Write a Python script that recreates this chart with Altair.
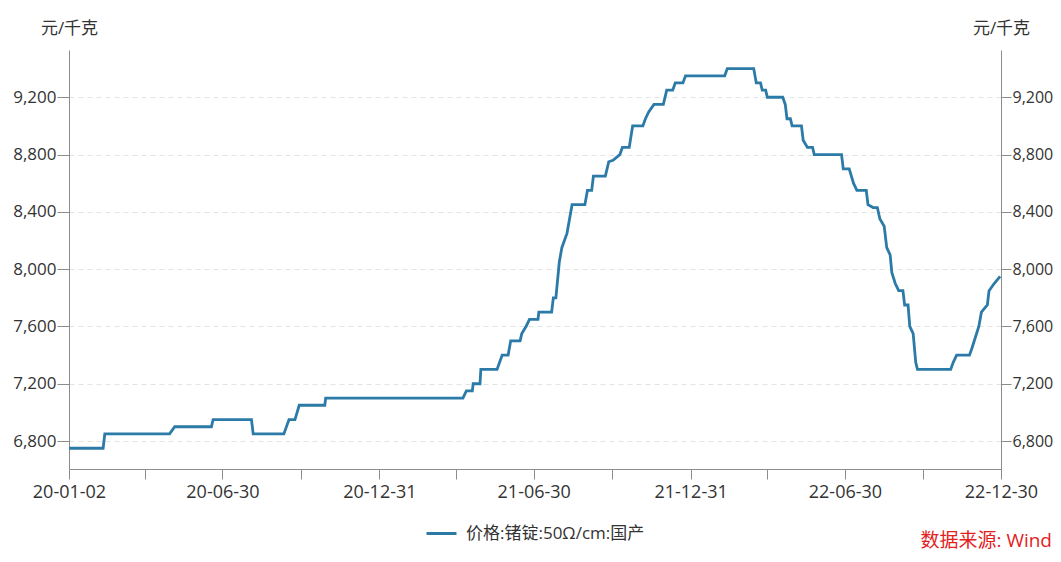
import altair as alt
import pandas as pd

# ---- data (day offsets from 2020-01-02, price in 元/千克) ----
day_offsets = [0, 40, 42, 118, 124, 167, 169, 214, 216, 252, 258, 265, 270, 300, 301,
               462, 466, 473, 474, 482, 483, 502, 508, 515, 518, 529, 531, 536, 540, 550,
               551, 566, 568, 571, 575, 578, 581, 584, 590, 605, 608, 613, 615, 629, 633,
               638, 646, 649, 657, 661, 673, 676, 680, 686, 697, 701, 708, 711, 720, 723,
               769, 772, 803, 806, 811, 813, 817, 819, 837, 840, 842, 846, 848, 859, 861,
               866, 872, 874, 906, 908, 915, 920, 924, 935, 937, 943, 948, 951, 956, 959,
               963, 965, 969, 973, 978, 980, 984, 986, 990, 993, 995, 1034, 1037, 1041, 1056,
               1059, 1067, 1070, 1077, 1079, 1085, 1092]
prices = [6750, 6750, 6850, 6850, 6900, 6900, 6950, 6950, 6850, 6850, 6950, 6950, 7050, 7050, 7100,
          7100, 7150, 7150, 7200, 7200, 7300, 7300, 7400, 7400, 7500, 7500, 7550, 7600, 7650, 7650,
          7700, 7700, 7800, 7800, 8050, 8150, 8200, 8250, 8450, 8450, 8550, 8550, 8650, 8650, 8750,
          8760, 8800, 8850, 8850, 9000, 9000, 9050, 9100, 9150, 9150, 9250, 9250, 9300, 9300, 9350,
          9350, 9400, 9400, 9300, 9300, 9250, 9250, 9200, 9200, 9150, 9050, 9050, 9000, 9000, 8900,
          8850, 8850, 8800, 8800, 8700, 8700, 8600, 8550, 8550, 8450, 8430, 8430, 8350, 8300, 8150,
          8100, 7975, 7900, 7850, 7850, 7750, 7750, 7600, 7550, 7350, 7300, 7300, 7350, 7400, 7400,
          7450, 7600, 7700, 7750, 7850, 7900, 7950]

series_name = "价格:锗锭:50Ω/cm:国产"
unit_title = "元/千克"
source_text = "数据来源: Wind"

tick_dates = ["2020-01-02", "2020-03-31", "2020-06-30", "2020-09-30", "2020-12-31",
              "2021-03-31", "2021-06-30", "2021-09-30", "2021-12-31", "2022-03-31",
              "2022-06-30", "2022-09-30", "2022-12-30"]
label_dates = ["2020-01-02", "2020-06-30", "2020-12-31", "2021-06-30",
               "2021-12-31", "2022-06-30", "2022-12-30"]
y_ticks = [6800, 7200, 7600, 8000, 8400, 8800, 9200]

start = pd.Timestamp("2020-01-02")
dates = start + pd.to_timedelta(day_offsets, unit="D")
df = pd.DataFrame({"date": dates, "price": prices, "series": series_name})


def dt(s):
    t = pd.Timestamp(s)
    return alt.DateTime(year=t.year, month=t.month, date=t.day)


FONT = "Open Sans, Noto Sans CJK SC"
LINE_COLOR = "#2b7aa8"
AXIS_COLOR = "#8c8c8c"
TEXT_COLOR = "#333333"

label_list = ",".join("'%s'" % d for d in label_dates)
label_expr = ("indexof([%s], timeFormat(datum.value, '%%Y-%%m-%%d')) >= 0 ? "
              "timeFormat(datum.value, '%%y-%%m-%%d') : ''") % label_list

x_scale = alt.Scale(domain=[dt("2020-01-02"), dt("2022-12-30")])
y_scale = alt.Scale(domain=[6605, 9530], nice=False, zero=False)

x_axis = alt.Axis(values=[dt(d) for d in tick_dates], labelExpr=label_expr, title=None,
                  labelOverlap=False, labelFlush=False, labelAlign="center",
                  grid=False, domainColor=AXIS_COLOR, tickColor=AXIS_COLOR, tickSize=10,
                  labelPadding=4, labelFontSize=18, labelColor=TEXT_COLOR, labelFont=FONT)

common_y = dict(values=y_ticks, format=",.0f", title=unit_title, titleAngle=0,
                titleAlign="center", titleBaseline="middle", titleX=0, titleY=-22,
                titleFontSize=17, titleFontWeight="normal", titleColor=TEXT_COLOR,
                titleFont=FONT, domainColor=AXIS_COLOR, tickColor=AXIS_COLOR,
                labelPadding=1, labelColor=TEXT_COLOR, labelFont=FONT)

y_left = alt.Axis(orient="left", grid=True, gridColor="#e3e3e3", gridDash=[5, 4],
                  gridWidth=1, tickSize=12, labelFontSize=17, **common_y)
y_right = alt.Axis(orient="right", grid=False, tickSize=10, labelFontSize=16, **common_y)

left = alt.Chart(df).mark_line(strokeWidth=2.8).encode(
    x=alt.X("date:T", scale=x_scale, axis=x_axis),
    y=alt.Y("price:Q", scale=y_scale, axis=y_left),
    color=alt.Color("series:N", scale=alt.Scale(range=[LINE_COLOR]),
                    legend=alt.Legend(orient="none", legendX=356, legendY=467, title=None,
                                      symbolType="stroke", symbolSize=900,
                                      symbolStrokeWidth=3, labelFontSize=17,
                                      labelColor=TEXT_COLOR, labelFont=FONT,
                                      labelOffset=8, labelLimit=0)),
)

right = alt.Chart(df).mark_line(strokeWidth=2.8, strokeOpacity=0).encode(
    x=alt.X("date:T", scale=x_scale, axis=x_axis),
    y=alt.Y("price:Q", scale=y_scale, axis=y_right),
)

src = alt.Chart(pd.DataFrame({"t": [source_text]})).mark_text(
    align="right", baseline="middle", fontSize=19, color="#e3211c", font=FONT
).encode(text="t:N", x=alt.value(983), y=alt.value(491))

chart = alt.layer(left, right, src).resolve_axis(y="independent").properties(
    width=932, height=419, autosize="none",
    padding={"left": 61, "top": 42, "right": 52, "bottom": 83},
).configure_view(stroke=None)

chart.save("out.html", embed_options={"renderer": "svg", "actions": False})
